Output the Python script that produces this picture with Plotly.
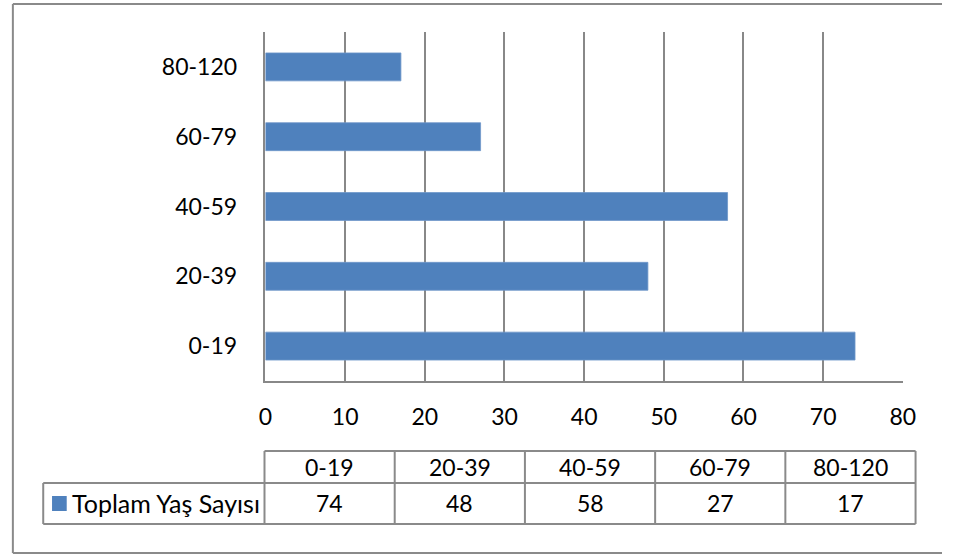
import plotly.graph_objects as go

# ---- data ----
categories = ["0-19", "20-39", "40-59", "60-79", "80-120"]
values = [74, 48, 58, 27, 17]
series_name = "Toplam Yaş Sayısı"
x_ticks = [0, 10, 20, 30, 40, 50, 60, 70, 80]

# ---- style ----
W, H = 955, 555
BAR = "#4F81BD"
GRID = "#888888"
FONT = "Lato"
FS = 23

def px(x):
    return x / W

def py(y):
    return 1 - y / H

fig = go.Figure(
    go.Bar(
        y=categories,
        x=values,
        orientation="h",
        name=series_name,
        marker=dict(color=BAR, line=dict(color="#6f97c9", width=0.8)),
        hoverinfo="x+y",
    )
)

fig.update_layout(
    width=W,
    height=H,
    margin=dict(l=0, r=0, t=0, b=0),
    paper_bgcolor="white",
    plot_bgcolor="white",
    showlegend=False,
    bargap=0.6,
    font=dict(family=FONT, size=FS, color="#000000"),
    xaxis=dict(
        domain=[px(264), px(915)],
        range=[0, 80],
        tickvals=x_ticks,
        showgrid=True,
        gridcolor=GRID,
        gridwidth=1.5,
        zeroline=False,
        showline=True,
        linecolor=GRID,
        linewidth=1.5,
        ticks="outside",
        ticklen=15,
        tickcolor="rgba(0,0,0,0)",
        fixedrange=True,
    ),
    yaxis=dict(
        domain=[py(381), py(32)],
        categoryorder="array",
        categoryarray=categories,
        showgrid=False,
        zeroline=False,
        showline=True,
        linecolor=GRID,
        linewidth=1.5,
        ticks="outside",
        ticklen=22,
        tickcolor="rgba(0,0,0,0)",
        fixedrange=True,
    ),
)

shapes = []
annotations = []

FRAME = dict(color="#8a8a8a", width=2)

def seg(x0, y0, x1, y1, line):
    shapes.append(dict(type="line", xref="paper", yref="paper",
                       x0=px(x0), x1=px(x1), y0=py(y0), y1=py(y1), line=line))

# outer frame (right edge lies outside the picture)
seg(6, 4, 955, 4, FRAME)
seg(6, 553, 955, 553, FRAME)
seg(6, 4, 6, 553, FRAME)

# data table
tbl_left = 263
col_w = 133
legend_left = 37
y_top, y_mid, y_bot = 451, 483, 524
n = len(categories)
tbl_right = tbl_left + col_w * n
LINE = dict(color="#8a8a8a", width=2)

seg(tbl_left, y_top, tbl_right, y_top, LINE)
seg(legend_left, y_mid, tbl_right, y_mid, LINE)
seg(legend_left, y_bot, tbl_right, y_bot, LINE)
seg(legend_left, y_mid, legend_left, y_bot, LINE)
for i in range(n + 1):
    xx = tbl_left + i * col_w
    seg(xx, y_top, xx, y_bot, LINE)

for i, (cat, val) in enumerate(zip(categories, values)):
    cx = tbl_left + col_w * (i + 0.5)
    annotations.append(dict(xref="paper", yref="paper", x=px(cx), y=py((y_top + y_mid) / 2),
                            text=cat, showarrow=False, xanchor="center", yanchor="middle",
                            font=dict(family=FONT, size=FS, color="#000000")))
    annotations.append(dict(xref="paper", yref="paper", x=px(cx), y=py((y_mid + y_bot) / 2),
                            text=str(val), showarrow=False, xanchor="center", yanchor="middle",
                            font=dict(family=FONT, size=FS, color="#000000")))

# legend key in table
shapes.append(dict(type="rect", xref="paper", yref="paper",
                   x0=px(46), x1=px(61), y0=py(496), y1=py(511),
                   fillcolor=BAR, line=dict(width=0)))
annotations.append(dict(xref="paper", yref="paper", x=px(64), y=py((y_mid + y_bot) / 2),
                        text=series_name, showarrow=False, xanchor="left", yanchor="middle",
                        font=dict(family=FONT, size=25, color="#000000")))

fig.update_layout(shapes=shapes, annotations=annotations)

fig.write_html(
    "out.html",
    config={"displayModeBar": False},
    post_script="document.body.style.margin='0';document.body.style.overflow='hidden';"
                "document.documentElement.style.overflow='hidden';",
)
